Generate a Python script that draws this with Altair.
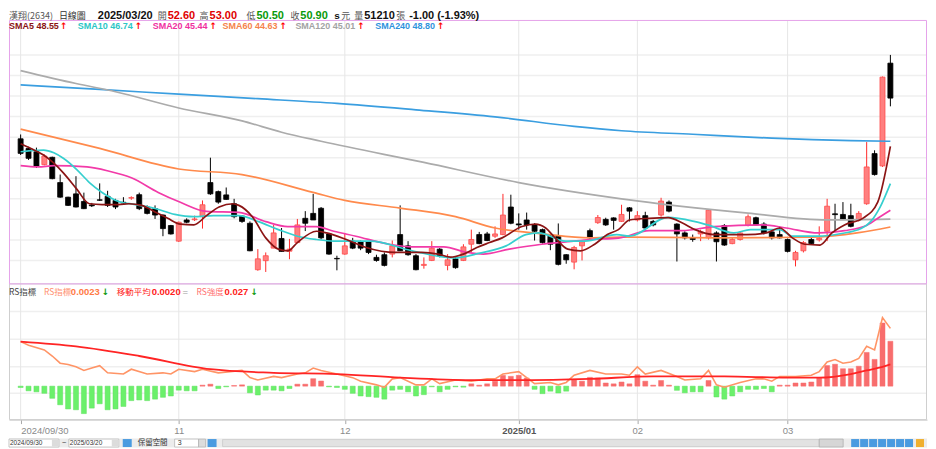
import altair as alt
import pandas as pd

# ---------------- data ----------------
# daily candles, 2024/09/30 .. 2025/03/20 (index = trading day)
open_ = [48.92, 48.45, 48.29, 47.66, 48.02, 46.79, 46.08, 46.24, 45.87, 45.70,
         45.95, 46.12, 45.92, 45.83, 46.03, 46.20, 45.60, 45.52, 45.21, 44.70,
         43.94, 44.97, 44.98, 45.13, 46.79, 46.35, 46.19, 45.76, 45.16, 44.81,
         42.55, 42.99, 43.60, 44.07, 43.45, 43.87, 45.05, 45.29, 45.54, 44.29,
         43.10, 43.31, 43.94, 43.91, 43.91, 43.15, 43.28, 43.31, 44.26, 43.71,
         43.23, 42.76, 43.00, 43.55, 42.76, 43.08, 43.00, 43.79, 44.26, 44.29,
         44.18, 44.26, 45.60, 44.78, 44.97, 44.73, 44.50, 44.18, 44.18, 43.28,
         42.92, 43.71, 44.45, 44.84, 45.00, 45.07, 44.90, 45.56, 44.97, 45.18,
         44.90, 45.21, 45.84, 44.77, 44.34, 44.10, 44.29, 44.10, 44.34, 44.70,
         43.82, 44.02, 44.70, 45.08, 44.77, 44.39, 44.26, 44.02, 43.03, 43.47,
         44.02, 44.00, 44.42, 45.27, 45.24, 45.18, 44.97, 45.76, 48.20, 47.60,
         52.60]
high = [49.13, 48.53, 48.49, 48.16, 48.05, 47.18, 46.10, 47.10, 46.30, 45.80,
        46.75, 46.39, 46.00, 46.08, 46.12, 46.30, 45.68, 45.68, 45.24, 44.73,
        44.89, 45.05, 45.18, 45.92, 48.00, 46.40, 46.55, 46.00, 45.20, 44.90,
        43.55, 43.39, 44.73, 44.58, 44.05, 45.02, 45.40, 46.24, 45.60, 44.34,
        43.23, 44.34, 44.10, 43.97, 43.94, 43.28, 43.39, 43.97, 45.68, 43.94,
        43.31, 43.15, 43.94, 43.60, 43.31, 43.15, 43.79, 44.50, 44.39, 44.39,
        44.66, 46.24, 46.20, 45.29, 45.33, 44.81, 44.55, 44.26, 44.80, 43.31,
        43.71, 43.97, 44.55, 45.21, 45.08, 45.10, 45.71, 45.60, 45.40, 45.37,
        44.97, 46.05, 45.92, 44.81, 44.42, 44.26, 44.50, 45.50, 44.42, 44.77,
        44.10, 44.39, 45.24, 45.13, 44.86, 44.50, 44.66, 44.07, 43.47, 43.94,
        44.10, 44.66, 46.00, 45.76, 45.84, 45.76, 45.40, 48.76, 48.36, 51.95,
        53.00]
low = [48.13, 47.89, 47.50, 47.63, 46.95, 46.05, 45.65, 45.58, 45.50, 45.60,
       45.90, 45.60, 45.50, 45.70, 45.95, 45.45, 45.24, 45.02, 44.18, 44.26,
       43.90, 44.81, 44.92, 44.55, 46.19, 45.76, 45.95, 45.05, 44.83, 43.45,
       42.50, 42.44, 43.60, 43.44, 43.06, 43.87, 44.43, 44.97, 44.02, 43.28,
       42.52, 43.28, 43.55, 43.50, 43.31, 42.94, 42.71, 43.15, 43.47, 43.23,
       42.52, 42.60, 42.97, 43.15, 42.52, 42.60, 42.97, 43.39, 43.79, 43.94,
       44.10, 44.23, 44.76, 44.50, 44.50, 43.97, 43.82, 43.50, 42.76, 42.84,
       42.57, 43.00, 44.02, 44.78, 44.68, 44.50, 44.87, 44.90, 44.90, 44.45,
       44.66, 45.13, 45.34, 42.95, 44.02, 43.91, 43.94, 44.02, 42.95, 43.71,
       43.79, 43.97, 44.66, 44.70, 44.26, 44.02, 44.07, 43.39, 42.71, 43.39,
       43.79, 43.92, 43.94, 44.42, 44.97, 44.61, 44.90, 45.71, 47.13, 47.55,
       50.50]
close = [48.21, 47.97, 47.58, 48.08, 46.98, 46.08, 45.68, 45.60, 45.52, 45.66,
         45.93, 45.68, 45.60, 45.80, 46.06, 45.52, 45.29, 45.21, 44.55, 44.29,
         44.86, 44.86, 45.02, 45.71, 46.24, 45.84, 45.97, 45.13, 44.90, 43.47,
         43.08, 43.23, 44.34, 43.44, 43.55, 44.73, 44.81, 44.97, 44.10, 43.31,
         43.08, 43.71, 43.60, 43.60, 43.39, 43.00, 42.76, 43.71, 43.47, 43.28,
         42.55, 42.81, 43.60, 43.23, 43.03, 42.65, 43.66, 44.02, 43.82, 43.97,
         44.29, 45.21, 44.81, 44.73, 44.73, 44.42, 43.87, 43.79, 42.81, 43.03,
         43.63, 43.91, 44.10, 45.09, 44.73, 44.95, 45.24, 45.40, 45.18, 44.58,
         44.73, 45.89, 45.40, 44.29, 44.10, 44.02, 44.39, 45.45, 43.91, 43.75,
         44.02, 44.34, 45.13, 44.73, 44.34, 44.10, 44.10, 43.44, 43.39, 43.87,
         43.82, 44.08, 45.64, 45.23, 45.02, 44.66, 45.29, 47.55, 47.18, 51.92,
         50.90]

month_idx = [0, 20, 41, 63, 78, 97]
month_lbl = ["2024/09/30", "11", "12", "2025/01", "02", "03"]
price_grid = [43, 44, 45, 46, 47, 48, 49, 50, 51, 52, 53]

# moving averages (trading-day index, price)
sma5_i = [0, 1.3, 2.9, 4.2, 5.4, 7.1, 8.7, 10.3, 12.4, 13.7, 15.3, 17.0, 18.6, 20.2, 21.9,
          23.5, 25.1, 26.9, 27.6, 29.3, 31.0, 32.6, 33.8, 35.0, 37.4, 38.7, 41.2, 43.7, 47.4,
          50.7, 52.8, 54.4, 56.0, 57.7, 59.3, 60.9, 63.4, 65.1, 66.4, 67.6, 69.2, 70.8, 72.6,
          74.2, 75.6, 77.0, 79.5, 81.9, 83.7, 85.3, 87.7, 91.8, 94.3, 96.0, 97.6, 99.2, 101.1,
          102.6, 104.2, 106.6, 108.4, 110]
sma5_v = [48.68, 48.45, 48.13, 47.73, 47.26, 46.47, 45.76, 45.72, 45.72, 45.76, 45.68, 45.36,
          45.05, 44.77, 44.73, 45.18, 45.60, 45.76, 45.68, 45.13, 44.10, 43.55, 43.47, 43.87,
          44.42, 44.34, 44.02, 43.63, 43.39, 43.39, 43.31, 43.16, 43.31, 43.63, 43.87, 44.10,
          44.65, 44.77, 44.58, 44.10, 43.55, 43.47, 43.79, 44.26, 44.50, 44.97, 45.05, 45.08,
          44.82, 44.50, 44.26, 44.26, 44.34, 44.58, 44.10, 43.79, 43.75, 44.34, 44.73, 45.07,
          45.84, 48.55]
sma10_i = [0, 1.3, 2.9, 4.2, 5.4, 7.1, 8.7, 10.3, 12.4, 14.5, 17.0, 19.5, 21.9, 24.4, 27.6,
           30.1, 32.6, 35.0, 37.4, 39.6, 44.2, 49.5, 54.8, 58.1, 61.4, 63.9, 65.5, 68.9, 71.3,
           75.4, 77.0, 81.9, 85.3, 86.9, 90.2, 92.3, 96.0, 97.6, 100.9, 103.8, 106.3, 107.5,
           108.7, 110]
sma10_v = [48.29, 48.34, 48.37, 48.24, 47.97, 47.42, 46.79, 46.31, 45.87, 45.72, 45.53, 45.24,
           45.13, 45.18, 45.18, 44.89, 44.50, 44.18, 44.02, 43.94, 43.94, 43.47, 43.12, 43.36,
           43.71, 44.26, 44.34, 43.94, 43.94, 44.26, 44.18, 45.10, 44.89, 44.73, 44.34, 44.50,
           44.50, 44.18, 44.18, 44.31, 44.55, 44.89, 45.60, 46.74]
sma20_i = [0, 2.2, 4.2, 8.4, 11.2, 14.0, 17.4, 20.2, 23.5, 27.6, 31.0, 33.8, 37.4, 39.6, 42.4,
           46.6, 49.5, 53.5, 56.5, 58.5, 61.8, 65.9, 69.2, 72.0, 75.6, 79.5, 83.7, 87.7, 93.9,
           96.8, 100.9, 104.2, 107.1, 108.7, 110]
sma20_v = [47.61, 47.55, 47.61, 47.55, 47.34, 47.02, 46.31, 45.83, 45.39, 45.34, 44.89, 44.65,
           44.65, 44.42, 44.18, 43.79, 43.66, 43.66, 43.39, 43.31, 43.55, 43.79, 43.91, 44.02,
           44.09, 44.45, 44.45, 44.65, 44.73, 44.58, 44.34, 44.45, 44.73, 45.13, 45.44]
sma60_i = [0, 10, 20, 28, 37, 41, 48, 55, 60, 66, 72, 76, 88, 100, 106, 110]
sma60_v = [49.39, 48.45, 47.45, 47.18, 46.31, 45.92, 45.55, 45.13, 44.58, 44.30, 44.10, 44.14,
           44.10, 44.13, 44.35, 44.63]
sma120_i = [0, 7, 12, 20, 28, 33, 38, 51, 63, 76, 92, 102, 110]
sma120_v = [52.24, 51.61, 51.21, 50.42, 49.79, 49.24, 48.80, 47.77, 46.79, 46.00, 45.30, 44.97,
            45.01]
sma240_i = [0, 10, 20, 30, 40, 50, 60, 70, 76, 85, 95, 105, 110]
sma240_v = [51.54, 51.32, 51.09, 50.87, 50.64, 50.33, 49.99, 49.52, 49.31, 49.14, 48.95, 48.83,
            48.80]

# RS indicator panel
rs_strength = [-0.0008, -0.0028, -0.0034, -0.0043, -0.0073, -0.0112, -0.0137, -0.0142, -0.0165, -0.0132,
               -0.0106, -0.0142, -0.0137, -0.0122, -0.0087, -0.0083, -0.0087, -0.0078, -0.0067, -0.0059,
               -0.0024, -0.0028, -0.0028, 0.0006, 0.0012, -0.0014, -0.0004, 0.0004, 0.0008, -0.0040,
               -0.0053, -0.0024, -0.0024, -0.0028, -0.0014, 0.0012, 0.0012, 0.0045, 0.0031, -0.0004,
               -0.0008, -0.0019, -0.0043, -0.0059, -0.0063, -0.0067, -0.0078, -0.0024, -0.0019, -0.0034,
               -0.0059, -0.0051, -0.0004, -0.0034, -0.0019, -0.0004, -0.0006, 0.0014, 0.0006, 0.0014,
               0.0030, 0.0065, 0.0059, 0.0065, 0.0049, -0.0019, -0.0045, -0.0030, -0.0041, -0.0030,
               0.0040, 0.0030, 0.0053, 0.0049, 0.0019, 0.0014, 0.0025, 0.0014, 0.0069, 0.0030,
               0.0006, 0.0034, 0.0006, -0.0025, -0.0040, -0.0034, -0.0034, 0.0034, -0.0065, -0.0078,
               -0.0059, -0.0034, -0.0019, -0.0019, -0.0014, -0.0034, 0.0006, 0.0006, 0.0019, 0.0019,
               0.0025, 0.0049, 0.0124, 0.0132, 0.0105, 0.0105, 0.0120, 0.0203, 0.0161, 0.0380,
               0.0270]
rs_idx_i = [0, 1, 3, 4, 5, 6, 7, 8, 9, 10, 11, 13, 14, 16, 18, 19, 20, 22, 23, 25, 28, 29, 30,
            32, 33, 35, 36, 37, 38, 40, 42, 43, 45, 46, 47, 48, 50, 51, 52, 53, 55, 57, 59, 60,
            61, 62, 63, 64, 65, 67, 68, 69, 70, 72, 74, 76, 77, 78, 79, 81, 83, 84, 86, 87, 88,
            89, 91, 93, 94, 95, 96, 98, 100, 101, 102, 103, 104, 105, 106, 107, 108, 109, 110]
rs_idx_v = [0.00219, 0.00216, 0.00212, 0.00207, 0.00201, 0.00200, 0.00198, 0.00195, 0.00197,
            0.00199, 0.00193, 0.00192, 0.00196, 0.00192, 0.00193, 0.00192, 0.00196, 0.00194,
            0.00196, 0.00193, 0.00195, 0.00189, 0.00187, 0.00190, 0.00189, 0.00192, 0.00193,
            0.00197, 0.00195, 0.00192, 0.00189, 0.00186, 0.00183, 0.00181, 0.00188, 0.00189,
            0.00183, 0.00183, 0.00188, 0.00184, 0.00187, 0.00186, 0.00188, 0.00188, 0.00192,
            0.00193, 0.00194, 0.00189, 0.00184, 0.00185, 0.00183, 0.00185, 0.00191, 0.00195,
            0.00192, 0.00192, 0.00191, 0.00198, 0.00192, 0.00195, 0.00190, 0.00187, 0.00188,
            0.00195, 0.00183, 0.00181, 0.00185, 0.00188, 0.00188, 0.00186, 0.00190, 0.00190,
            0.00191, 0.00194, 0.00202, 0.00204, 0.00201, 0.00202, 0.00205, 0.00215, 0.00212,
            0.00239, 0.00230]
rs_ma_i = [0, 7, 15, 24, 32, 40, 48, 57, 64, 72, 80, 89, 97, 101, 105, 107, 109, 110]
rs_ma_v = [0.00219, 0.00215, 0.00207, 0.00196, 0.00193, 0.00192, 0.00189, 0.00187, 0.00187,
           0.00188, 0.00190, 0.00190, 0.00189, 0.00189, 0.00192, 0.00195, 0.00198, 0.00200]
rs_grid = [0.00176, 0.00198, 0.00221, 0.00244]

# ---------------- styling ----------------
FONT = "Liberation Sans, Noto Sans CJK TC, sans-serif"
CJK = "Noto Sans CJK TC, sans-serif"
ARROW = "DejaVu Sans, sans-serif"
W, H = 920, 412
UP_F, UP_S, UP_W = "#ff7f7f", "#ff4d4d", "#ff2a2a"
MA_NAMES = ["SMA240", "SMA120", "SMA60", "SMA20", "SMA10", "SMA5"]
MA_COLORS = ["#3a9ee0", "#ababab", "#ff8a4c", "#f23aa8", "#36cfcf", "#8b1414"]

xs = alt.Scale(domain=[-0.84, 114.0], nice=False, zero=False)
lab_expr = " : ".join(f"datum.value == {i} ? '{l}'" for i, l in zip(month_idx, month_lbl)) + " : ''"
x_axis = alt.Axis(values=month_idx, labelExpr=lab_expr, grid=False, title=None,
                  domainColor="#c4c4c4", tickColor="#a8a8a8", tickSize=4,
                  labelColor=alt.condition("datum.value == 63", alt.value("#555555"), alt.value("#8a8a8a")),
                  labelFontWeight=alt.condition("datum.value == 63", alt.value("bold"), alt.value("normal")),
                  labelFont=FONT, labelFontSize=9.5, labelPadding=2, labelFlush=12, labelOverlap=False)


def X(field="i"):
    return alt.X(f"{field}:Q", scale=xs, axis=x_axis)


PS = alt.Scale(domain=[41.86, 54.58], range=[276, 14], nice=False, zero=False)
BS = alt.Scale(domain=[-0.0201, 0.0519], range=[412, 292], nice=False, zero=False)
LS = alt.Scale(domain=[0.001541, 0.002537], range=[412, 292], nice=False, zero=False)

one = alt.Data(values=[{}])


def txt(s, x, y, color, size=10, weight="normal", font=FONT, align="left"):
    return alt.Chart(one).mark_text(text=s, align=align, baseline="middle", fontSize=size,
                                    fontWeight=weight, font=font, color=color).encode(
        x=alt.value(x), y=alt.value(y))


def box(y0, y1, color):
    return alt.Chart(one).mark_rect(filled=False, stroke=color, strokeWidth=1).encode(
        x=alt.value(0.5), x2=alt.value(W - 0.5), y=alt.value(y0), y2=alt.value(y1))


def rect(x0, x1, y0, y1, fill, stroke=None):
    kw = {"fill": fill}
    if stroke:
        kw["stroke"] = stroke
        kw["strokeWidth"] = 0.7
    return alt.Chart(one).mark_rect(**kw).encode(
        x=alt.value(x0), x2=alt.value(x1), y=alt.value(y0), y2=alt.value(y1))


# ---------------- layers ----------------
n = len(close)
cdf = pd.DataFrame({"i": list(range(n)), "open": open_, "high": high, "low": low, "close": close})
up = "datum.close >= datum.open"

grid_p = alt.Chart(pd.DataFrame({"p": price_grid})).mark_rule(color="#efefef", strokeWidth=1.5).encode(
    y=alt.Y("p:Q", scale=PS, axis=None))
grid_rs = alt.Chart(pd.DataFrame({"g": rs_grid})).mark_rule(color="#efefef", strokeWidth=1.5).encode(
    y=alt.Y("g:Q", scale=LS, axis=None))
vgrid = alt.Chart(pd.DataFrame({"i": month_idx})).mark_rule(color="#e6e6e6", strokeWidth=1).encode(
    x=X(), y=alt.value(12), y2=alt.value(H))

wick = alt.Chart(cdf).mark_rule(strokeWidth=1).encode(
    x=X(), y=alt.Y("low:Q", scale=PS, axis=None), y2="high:Q",
    color=alt.condition(up, alt.value(UP_W), alt.value("#000000")))
body = alt.Chart(cdf).mark_bar(size=5, strokeWidth=0.8).encode(
    x=X(), y=alt.Y("open:Q", scale=PS, axis=None), y2="close:Q",
    fill=alt.condition(up, alt.value(UP_F), alt.value("#000000")),
    stroke=alt.condition(up, alt.value(UP_S), alt.value("#000000")))

ma_rows = []
for name, ii, vv in [("SMA240", sma240_i, sma240_v), ("SMA120", sma120_i, sma120_v),
                     ("SMA60", sma60_i, sma60_v), ("SMA20", sma20_i, sma20_v),
                     ("SMA10", sma10_i, sma10_v), ("SMA5", sma5_i, sma5_v)]:
    for a, b in zip(ii, vv):
        ma_rows.append({"i": a, "v": b, "ma": name})
ma = alt.Chart(pd.DataFrame(ma_rows)).mark_line(strokeWidth=1.7, interpolate="monotone").encode(
    x=X(), y=alt.Y("v:Q", scale=PS, axis=None),
    color=alt.Color("ma:N", scale=alt.Scale(domain=MA_NAMES, range=MA_COLORS), legend=None),
    order=alt.Order("i:Q"))

bdf = pd.DataFrame({"i": list(range(n)), "rs": rs_strength})
bars = alt.Chart(bdf).mark_bar(size=5, strokeWidth=0.5).encode(
    x=X(), y=alt.Y("rs:Q", scale=BS, axis=None), y2=alt.datum(0),
    fill=alt.condition("datum.rs >= 0", alt.value("#f86d6d"), alt.value("#6bf06b")),
    stroke=alt.condition("datum.rs >= 0", alt.value("#f86d6d"), alt.value("#5ee05e")))
rs_line = alt.Chart(pd.DataFrame({"i": rs_idx_i, "v": rs_idx_v})).mark_line(
    color="#ff9466", strokeWidth=1.6).encode(x=X(), y=alt.Y("v:Q", scale=LS, axis=None))
rs_ma = alt.Chart(pd.DataFrame({"i": rs_ma_i, "v": rs_ma_v})).mark_line(
    color="#ff2424", strokeWidth=1.8, interpolate="monotone").encode(
    x=X(), y=alt.Y("v:Q", scale=LS, axis=None))

# header, legends
HY, LY, RY = 7.5, 17.5, 284
texts = [
    txt("漢翔(2634)", 0, HY, "#555555", 9, font=CJK),
    txt("日線圖", 50, HY, "#333333", 9, font=CJK),
    txt("2025/03/20", 89, HY, "#111111", 11, "bold"),
    txt("開", 149, HY, "#555555", 9, font=CJK),
    txt("52.60", 159, HY, "#e00000", 11, "bold"),
    txt("高", 191, HY, "#555555", 9, font=CJK),
    txt("53.00", 201, HY, "#e00000", 11, "bold"),
    txt("低", 238, HY, "#555555", 9, font=CJK),
    txt("50.50", 248, HY, "#0a9a0a", 11, "bold"),
    txt("收", 282, HY, "#555555", 9, font=CJK),
    txt("50.90", 292, HY, "#0a9a0a", 11, "bold"),
    txt("s", 326, HY, "#111111", 10, "bold"),
    txt("元", 333, HY, "#555555", 9, font=CJK),
    txt("量", 346, HY, "#555555", 9, font=CJK),
    txt("51210", 356, HY, "#111111", 11, "bold"),
    txt("張", 388, HY, "#555555", 9, font=CJK),
    txt("-1.00 (-1.93%)", 401, HY, "#111111", 11, "bold"),
]
legend_items = [("SMA5 48.55", 0, 51, "#8b1414"), ("SMA10 46.74", 69, 126, "#2cc6c6"),
                ("SMA20 45.44", 144, 201, "#f0309f"), ("SMA60 44.63", 214, 271, "#f5834a"),
                ("SMA120 45.01", 287, 349, "#a3a3a3"), ("SMA240 48.80", 367, 429, "#2f93dd")]
for s, x0, xa, c in legend_items:
    texts.append(txt(s, x0, LY, c, 9, "bold"))
    texts.append(txt("↑", xa, LY, "#ff0000", 9, "bold", ARROW))
texts += [
    txt("RS指標", 0, RY, "#444444", 8.5, font=CJK),
    txt("RS指標", 35, RY, "#ff9070", 8.5, font=CJK),
    txt("0.0023", 62, RY, "#ff7a45", 9.5, "bold"),
    txt("↓", 93, RY, "#109a10", 9, "bold", ARROW),
    txt("移動平均", 108, RY, "#ff2020", 8.5, font=CJK),
    txt("0.0020", 143, RY, "#ff2020", 9.5, "bold"),
    txt("=", 174, RY, "#9a9a9a", 9.5),
    txt("RS強度", 188, RY, "#ff7070", 8.5, font=CJK),
    txt("0.027", 216, RY, "#ff2020", 9.5, "bold"),
    txt("↓", 242, RY, "#109a10", 9, "bold", ARROW),
]

# bottom tool strip (below the axis labels)
TY0, TY1 = H + 19, H + 28
TM = (TY0 + TY1) / 2
toolbar = [
    rect(0, W, TY0, TY1, "#ececec"),
    rect(0, 50, TY0 + 0.5, TY1 - 0.5, "#ffffff", "#b0b0b0"),
    rect(43, 50, TY0 + 1, TY1 - 1, "#dcdcdc"),
    txt("2024/09/30", 1, TM, "#333333", 6.5),
    txt("~", 53, TM, "#333333", 7.5),
    rect(60, 110, TY0 + 0.5, TY1 - 0.5, "#ffffff", "#b0b0b0"),
    rect(103, 110, TY0 + 1, TY1 - 1, "#dcdcdc"),
    txt("2025/03/20", 61, TM, "#333333", 6.5),
    rect(114, 123, TY0 + 0.5, TY1 - 0.5, "#4a9be0"),
    txt("保留空間", 129, TM, "#333333", 7.5, font=CJK),
    rect(166, 190, TY0 + 0.5, TY1 - 0.5, "#ffffff", "#b0b0b0"),
    txt("3", 169, TM, "#333333", 7),
    rect(190, 197, TY0 + 0.5, TY1 - 0.5, "#dcdcdc", "#b0b0b0"),
    rect(199, 208, TY0 + 0.5, TY1 - 0.5, "#4a9be0"),
    rect(214, 812, TY0 + 1, TY1 - 1, "#e2e2e2", "#c8c8c8"),
    rect(812, 836, TY0 + 0.5, TY1 - 0.5, "#d6d6d6", "#a8a8a8"),
    rect(844, 852, TY0 + 0.5, TY1 - 0.5, "#4a9be0"),
    rect(853, 861, TY0 + 0.5, TY1 - 0.5, "#4a9be0"),
    rect(862, 870, TY0 + 0.5, TY1 - 0.5, "#4a9be0"),
    rect(871, 879, TY0 + 0.5, TY1 - 0.5, "#4a9be0"),
    rect(880, 888, TY0 + 0.5, TY1 - 0.5, "#4a9be0"),
    rect(889, 897, TY0 + 0.5, TY1 - 0.5, "#4a9be0"),
    rect(898, 906, TY0 + 0.5, TY1 - 0.5, "#4a9be0"),
    rect(909, 917, TY0 + 0.5, TY1 - 0.5, "#f0b030"),
]

layers = [grid_p, grid_rs, vgrid, box(276, H, "#cfcfcf"), box(12, 276, "#e5a3ea"),
          bars, rs_line, rs_ma, wick, body, ma] + texts + toolbar

chart = alt.layer(*layers).resolve_scale(y="independent").properties(
    width=W, height=H, padding={"left": 0, "top": 0, "right": 0, "bottom": 11}, background="white"
).configure_view(strokeOpacity=0)

chart.save("out.html", embed_options={"renderer": "svg", "actions": False})
